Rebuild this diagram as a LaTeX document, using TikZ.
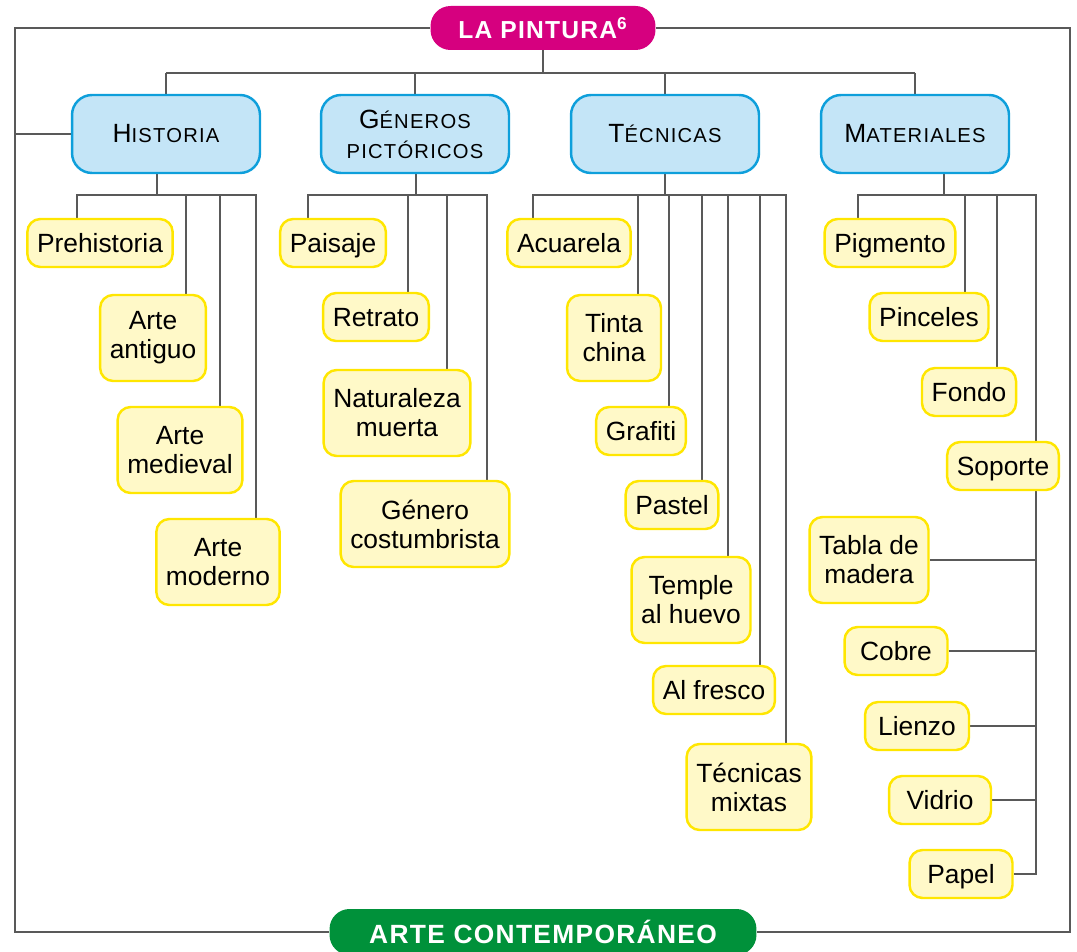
\documentclass[tikz,border=0pt]{standalone}
\usepackage{fontspec}
\setmainfont{Liberation Sans}
\usepackage{tikz}
\usetikzlibrary{backgrounds}
\definecolor{pinturapink}{HTML}{D6007F}
\definecolor{contempgreen}{HTML}{00913A}
\definecolor{catfill}{HTML}{C4E5F7}
\definecolor{catborder}{HTML}{0E9FDB}
\definecolor{leaffill}{HTML}{FFF9C8}
\definecolor{leafborder}{HTML}{FFE600}
\colorlet{linegray}{black!65}
\newcommand\versal[2]{{\fontsize{15}{17}\selectfont #1}#2}
\tikzset{
  link/.style={draw=linegray,line width=1.1pt},
  headbox/.style={rounded corners=0.4cm,text=white,inner sep=0pt,
    font=\fontsize{14}{16}\selectfont\bfseries\addfontfeature{LetterSpace=5}},
  category/.style={fill=catfill,draw=catborder,line width=1.4pt,
    rounded corners=0.4cm,minimum width=3.76cm,minimum height=1.56cm,
    align=center,font=\fontsize{11.5}{17}\selectfont\addfontfeature{LetterSpace=6}},
  leaf/.style={fill=leaffill,draw=leafborder,line width=1.4pt,
    rounded corners=0.26cm,inner xsep=5.5pt,inner ysep=4pt,
    text height=12.5pt,text depth=1.7pt,
    minimum height=0.96cm,align=center,font=\fontsize{15}{16.5}\selectfont},
  tallleaf/.style={leaf,text height=,text depth=,minimum height=1.72cm},
}

\begin{document}
\begin{tikzpicture}[x=0.02cm,y=-0.02cm]
\useasboundingbox (0,0) rectangle (1077,952);

\node[headbox,fill=pinturapink,minimum width=4.5cm,minimum height=0.88cm]
  (pintura) at (543,28) {LA PINTURA\textsuperscript{6}};
\node[headbox,fill=contempgreen,minimum width=8.54cm,minimum height=0.92cm,
  font=\fontsize{15}{17}\selectfont\bfseries\addfontfeature{LetterSpace=5}]
  (arte) at (543,932) {ARTE CONTEMPORÁNEO};

% categories
\node[category] (hist) at (166,134) {\versal{H}{ISTORIA}};
\node[category] (gen) at (415,134) {\versal{G}{ÉNEROS}\\PICTÓRICOS};
\node[category] (tec) at (665,134) {\versal{T}{ÉCNICAS}};
\node[category] (mat) at (915,134) {\versal{M}{ATERIALES}};

% historia
\node[leaf] (pre) at (100,243) {Prehistoria};
\node[tallleaf] (ant) at (153,338) {Arte\\antiguo};
\node[tallleaf] (med) at (180,450) {Arte\\medieval};
\node[tallleaf] (mod) at (218,562) {Arte\\moderno};

% generos
\node[leaf] (pai) at (333,243) {Paisaje};
\node[leaf] (ret) at (376,317) {Retrato};
\node[tallleaf] (nat) at (397,413) {Naturaleza\\muerta};
\node[tallleaf] (cos) at (425,524) {Género\\costumbrista};

% tecnicas
\node[leaf] (acu) at (569,243) {Acuarela};
\node[tallleaf,minimum width=1.88cm] (tin) at (614,338) {Tinta\\china};
\node[leaf] (gra) at (641,431) {Grafiti};
\node[leaf] (pas) at (672,505) {Pastel};
\node[tallleaf] (tem) at (691,600) {Temple\\al huevo};
\node[leaf] (fre) at (714,690) {Al fresco};
\node[tallleaf] (mix) at (749,787) {Técnicas\\mixtas};

% materiales
\node[leaf] (pig) at (890,243) {Pigmento};
\node[leaf] (pin) at (929,317) {Pinceles};
\node[leaf] (fon) at (969,392) {Fondo};
\node[leaf] (sop) at (1003,466) {Soporte};
\node[tallleaf] (tab) at (869,560) {Tabla de\\madera};
\node[leaf,minimum width=2.06cm] (cob) at (896,651) {Cobre};
\node[leaf,minimum width=2.08cm] (lie) at (917,726) {Lienzo};
\node[leaf,minimum width=2.04cm] (vid) at (940,800) {Vidrio};
\node[leaf,minimum width=2.06cm] (pap) at (961,874) {Papel};

\begin{scope}[on background layer]
\coordinate (tl) at (15,28);
\coordinate (tr) at (1070,28);
\coordinate (bl) at (15,932);
\coordinate (br) at (1070,932);
\draw[link] (pintura.west) -- (tl) -- (bl) -- (arte.west);
\draw[link] (pintura.east) -- (tr) -- (br) -- (arte.east);
\draw[link] (hist.west) -- (hist.west -| tl);

\coordinate (top) at (543,73);
\draw[link] (pintura) -- (top);
\draw[link] (hist.north |- top) -- (mat.north |- top);
\foreach \n in {hist,gen,tec,mat}
  \draw[link] (\n.north |- top) -- (\n.north);

\coordinate (hj) at (157,195);
\draw[link] (hj |- hist.south) -- (hj);
\foreach \x/\n in {77/pre,186/ant,220/med,256/mod}{
  \coordinate (d) at (\x,195);
  \draw[link] (hj) -- (d) -- (d |- \n.north);
}

\coordinate (gj) at (416,195);
\draw[link] (gj |- gen.south) -- (gj);
\foreach \x/\n in {308/pai,408/ret,447/nat,487/cos}{
  \coordinate (d) at (\x,195);
  \draw[link] (gj) -- (d) -- (d |- \n.north);
}

\coordinate (tj) at (665,195);
\draw[link] (tj |- tec.south) -- (tj);
\foreach \x/\n in {533/acu,638/tin,669/gra,702/pas,728/tem,760/fre,786/mix}{
  \coordinate (d) at (\x,195);
  \draw[link] (tj) -- (d) -- (d |- \n.north);
}

\coordinate (mj) at (944,195);
\draw[link] (mj |- mat.south) -- (mj);
\foreach \x/\n in {858/pig,965/pin,997/fon}{
  \coordinate (d) at (\x,195);
  \draw[link] (mj) -- (d) -- (d |- \n.north);
}
\coordinate (col) at (1036,195);
\draw[link] (mj) -- (col) |- (pap.east);
\foreach \n in {tab,cob,lie,vid}
  \draw[link] (\n.east) -- (\n.east -| col);
\end{scope}
\end{tikzpicture}
\end{document}
